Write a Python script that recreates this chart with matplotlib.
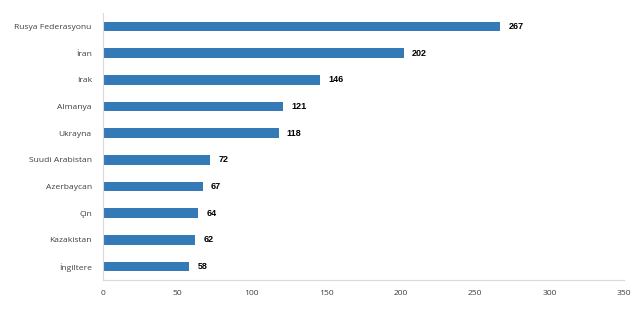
import matplotlib
matplotlib.use('Agg')
import matplotlib.pyplot as plt

# ülkelere göre değerler (yukarıdan aşağıya)
ulkeler = ['Rusya Federasyonu', 'İran', 'Irak', 'Almanya', 'Ukrayna',
           'Suudi Arabistan', 'Azerbaycan', 'Çin', 'Kazakistan', 'İngiltere']
degerler = [267, 202, 146, 121, 118, 72, 67, 64, 62, 58]
x_ticks = [0, 50, 100, 150, 200, 250, 300, 350]

fig = plt.figure(figsize=(6.38, 3.30), dpi=100)
ax = fig.add_axes([0.1614, 0.1515, 0.8166, 0.8091])

y = list(range(len(ulkeler)))[::-1]
ax.barh(y, degerler, height=0.36, color='#337ab7', zorder=2)

for yi, v in zip(y, degerler):
    ax.text(v + 5.5, yi, str(v), va='center', ha='left', fontsize=6.5,
            fontweight='bold', family='Liberation Sans', color='#000000')

ax.set_xlim(0, 350)
ax.set_ylim(-0.5, len(ulkeler) - 0.5)
ax.set_yticks(y)
ax.set_yticklabels(ulkeler, family='Open Sans', fontsize=6.1, color='#404040')
ax.set_xticks(x_ticks)
ax.set_xticklabels([str(t) for t in x_ticks], family='Open Sans',
                   fontsize=6.1, color='#404040')

for s in ['top', 'right']:
    ax.spines[s].set_visible(False)
ax.spines['left'].set_color('#d9d9d9')
ax.spines['bottom'].set_color('#d9d9d9')
ax.spines['left'].set_linewidth(0.8)
ax.spines['bottom'].set_linewidth(0.8)
ax.tick_params(axis='both', length=0)
ax.tick_params(axis='y', pad=8)
ax.tick_params(axis='x', pad=7)

fig.savefig('out.png', dpi=100)
